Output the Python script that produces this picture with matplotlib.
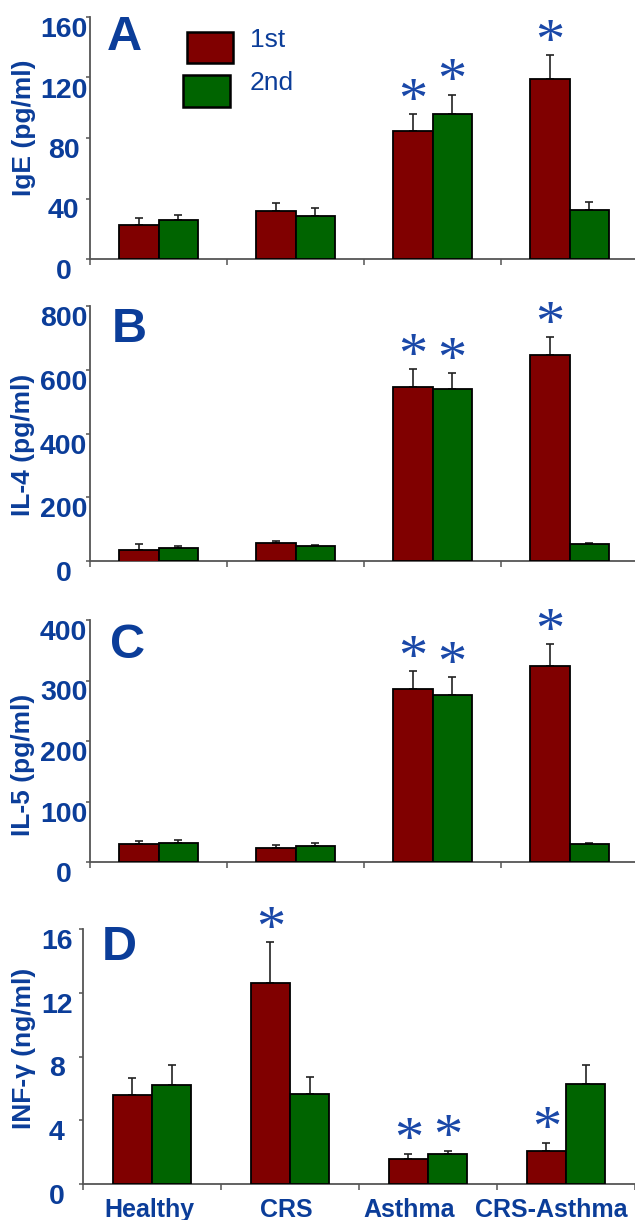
import matplotlib
matplotlib.use("Agg")
import matplotlib.pyplot as plt
from matplotlib.patches import Rectangle
from matplotlib.transforms import ScaledTranslation, blended_transform_factory

plt.rcParams['font.family'] = ['Liberation Sans', 'DejaVu Sans']

# ---------------- data ----------------
groups = ["Healthy", "CRS", "Asthma", "CRS-Asthma"]
series_names = ["1st", "2nd"]

ige_1st = [22.5, 32, 84.6, 119]
ige_1st_err = [4.5, 5, 11.4, 16]
ige_2nd = [25.8, 28.4, 95.7, 32.2]
ige_2nd_err = [3.2, 5.6, 13, 5.3]

il4_1st = [34.5, 56, 546, 646]
il4_1st_err = [18.5, 6.5, 56, 57]
il4_1st_base = [-9, 0, 0, 0]
il4_2nd = [40, 47, 540, 53]
il4_2nd_err = [6, 3, 50, 3]

il5_1st = [29.8, 23, 286, 324]
il5_1st_err = [5, 5, 30, 36]
il5_2nd = [31.4, 26.4, 276, 30]
il5_2nd_err = [4.6, 4.6, 30, 2]

ifn_1st = [5.58, 12.6, 1.6, 2.1]
ifn_1st_err = [1.07, 2.6, 0.3, 0.5]
ifn_2nd = [6.2, 5.65, 1.88, 6.3]
ifn_2nd_err = [1.27, 1.05, 0.22, 1.15]

# significance marks (True = asterisk above that bar)
sig_A_1st = [False, False, True, True]
sig_A_2nd = [False, False, True, False]
sig_D_1st = [False, True, True, True]
sig_D_2nd = [False, False, True, False]

panel_letters = ["A", "B", "C", "D"]
ylabels = ["IgE (pg/ml)", "IL-4 (pg/ml)", "IL-5 (pg/ml)", "INF-\u03b3 (ng/ml)"]
yticks_A = [0, 40, 80, 120, 160]
yticks_B = [0, 200, 400, 600, 800]
yticks_C = [0, 100, 200, 300, 400]
yticks_D = [0, 4, 8, 12, 16]

# ---------------- style ----------------
RED = "#800000"
GREEN = "#006400"
BLUE = "#0b3d99"
STAR_BLUE = "#1a48a8"
SPINE = "#555555"

W, H = 635, 1220
fig = plt.figure(figsize=(W / 100, H / 100), dpi=100)

def px_axes(left, top, right, bottom):
    return fig.add_axes([left / W, 1 - bottom / H, (right - left) / W, (bottom - top) / H])

axA = px_axes(90, 17, 638, 259)
axB = px_axes(90, 306, 638, 561)
axC = px_axes(90, 620, 638, 862)
axD = px_axes(83, 929, 635, 1184)

panels = [
    (axA, ige_1st, ige_1st_err, [0, 0, 0, 0], ige_2nd, ige_2nd_err, yticks_A, sig_A_1st, sig_A_2nd),
    (axB, il4_1st, il4_1st_err, il4_1st_base, il4_2nd, il4_2nd_err, yticks_B, sig_A_1st, sig_A_2nd),
    (axC, il5_1st, il5_1st_err, [0, 0, 0, 0], il5_2nd, il5_2nd_err, yticks_C, sig_A_1st, sig_A_2nd),
    (axD, ifn_1st, ifn_1st_err, [0, 0, 0, 0], ifn_2nd, ifn_2nd_err, yticks_D, sig_D_1st, sig_D_2nd),
]

label_y = [0.541, 0.456, 0.40, 0.53]
label_x = [-0.121, -0.123, -0.123, -0.107]
letter_pos = [(0.031, 0.864), (0.040, 0.859), (0.036, 0.843), (0.034, 0.878)]

bw = 0.285
centers = [i + 0.5 for i in range(len(groups))]

for k, (ax, v1, e1, b1, v2, e2, yt, s1, s2) in enumerate(panels):
    x1 = [c - bw / 2 for c in centers]
    x2 = [c + bw / 2 for c in centers]
    h1 = [v - b for v, b in zip(v1, b1)]
    ax.bar(x1, h1, bw, bottom=b1, color=RED, edgecolor="black", linewidth=1.3, zorder=3)
    ax.bar(x2, v2, bw, color=GREEN, edgecolor="black", linewidth=1.3, zorder=3)
    ax.errorbar(x1, v1, yerr=[[0] * 4, e1], fmt="none", ecolor="#222222",
                elinewidth=1.2, capsize=3, capthick=1.2, zorder=2)
    ax.errorbar(x2, v2, yerr=[[0] * 4, e2], fmt="none", ecolor="#222222",
                elinewidth=1.2, capsize=3, capthick=1.2, zorder=2)

    # asterisks
    for xs, vs, es, ss in ((x1, v1, e1, s1), (x2, v2, e2, s2)):
        for x, v, e, s in zip(xs, vs, es, ss):
            if s:
                ax.annotate("*", (x, v + e), xytext=(0, -2), textcoords="offset points",
                            ha="center", va="baseline", fontsize=42,
                            family=["Liberation Serif", "DejaVu Serif"], color=STAR_BLUE)

    ax.set_xlim(0, 4)
    ax.set_ylim(yt[0], yt[-1])
    for sp in ("top", "right"):
        ax.spines[sp].set_visible(False)
    for sp in ("left", "bottom"):
        ax.spines[sp].set_color(SPINE)
        ax.spines[sp].set_linewidth(1.3)
    ax.spines["left"].set_bounds(0, yt[-1])
    ax.spines["bottom"].set_position(("data", 0))

    ax.set_xticks([0, 1, 2, 3, 4])
    ax.set_xticklabels([])
    ax.tick_params(axis="x", direction="out", length=4, width=1.1, color=SPINE)

    ax.set_yticks(yt)
    ax.set_yticklabels([str(t) for t in yt])
    ax.tick_params(axis="y", direction="out", length=3, width=1.1, color=SPINE,
                   pad=16, labelsize=20.5, labelcolor=BLUE)
    for t in ax.yaxis.get_major_ticks():
        t.label1.set_fontweight("bold")
        t.label1.set_horizontalalignment("center")
        t.label1.set_verticalalignment("top")

    ax.set_ylabel(ylabels[k], fontsize=19, fontweight="bold", color=BLUE, va="center")
    ax.yaxis.set_label_coords(label_x[k], label_y[k])

    lx, ly = letter_pos[k]
    ax.text(lx, ly, panel_letters[k], transform=ax.transAxes, fontsize=35,
            fontweight="bold", color=BLUE, ha="left", va="baseline")

# legend in panel A
axA.add_patch(Rectangle((0.177, 0.81), 0.084, 0.128, transform=axA.transAxes,
                        facecolor=RED, edgecolor="black", linewidth=1.8, clip_on=False, zorder=5))
axA.add_patch(Rectangle((0.170, 0.628), 0.086, 0.132, transform=axA.transAxes,
                        facecolor=GREEN, edgecolor="black", linewidth=1.8, clip_on=False, zorder=5))
axA.text(0.292, 0.905, series_names[0], transform=axA.transAxes, fontsize=19,
         color=BLUE, ha="left", va="center")
axA.text(0.292, 0.727, series_names[1], transform=axA.transAxes, fontsize=19,
         color=BLUE, ha="left", va="center")

# category labels under panel D
label_shift_px = [-3, -3.5, -19, -14.5]
base = blended_transform_factory(axD.transData, axD.transAxes)
for c, name, dx in zip(centers, groups, label_shift_px):
    tr = base + ScaledTranslation(dx / 100, 0, fig.dpi_scale_trans)
    axD.text(c, -0.055, name, transform=tr, fontsize=18, fontweight="bold",
             color=BLUE, ha="center", va="top")

fig.savefig("out.png", dpi=100)
